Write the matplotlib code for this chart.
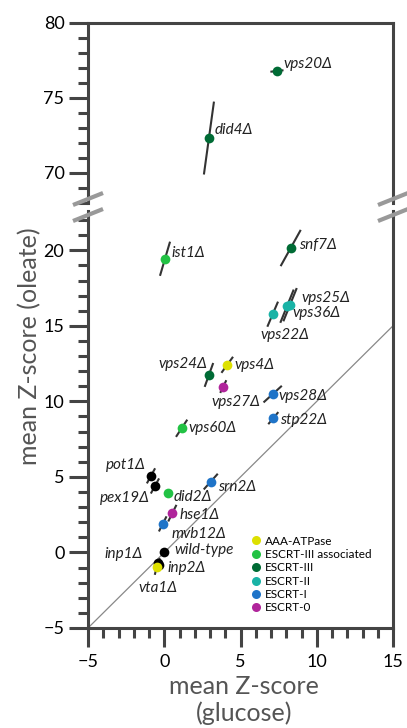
import matplotlib
matplotlib.use('Agg')
import matplotlib.pyplot as plt
from matplotlib.lines import Line2D

plt.rcParams['font.family'] = ['Lato', 'DejaVu Sans']

# mutant data: glucose z, oleate z, half-extent of the error segment in x and y
names = ['vps20Δ', 'did4Δ', 'ist1Δ', 'snf7Δ', 'vps25Δ', 'vps36Δ', 'vps22Δ',
         'vps24Δ', 'vps4Δ', 'vps27Δ', 'vps28Δ', 'stp22Δ', 'vps60Δ', 'pot1Δ',
         'pex19Δ', 'did2Δ', 'srn2Δ', 'hse1Δ', 'mvb12Δ', 'wild-type', 'inp1Δ',
         'inp2Δ', 'vta1Δ']
glucose = [7.39, 2.93, 0.05, 8.29, 8.25, 8.05, 7.11, 2.93, 4.13, 3.87, 7.11, 7.15,
           1.14, -0.87, -0.61, 0.27, 3.05, 0.53, -0.10, 0.0, -0.43, -0.35, -0.50]
oleate = [76.8, 72.33, 19.44, 20.15, 16.40, 16.30, 15.77, 11.75, 12.42, 10.98, 10.48,
          8.89, 8.22, 5.07, 4.40, 3.92, 4.69, 2.60, 1.89, 0.0, -0.68, -0.85, -0.98]
err_x = [0.43, 0.33, 0.33, 0.66, 0.44, 0.44, 0.35, 0.28, 0.38, 0.20, 0.60, 0.33,
         0.37, 0.27, 0.27, 0.15, 0.46, 0.27, 0.25, 0.15, 0.15, 0.15, 0.12]
err_y = [0.05, 2.43, 1.13, 1.20, 1.10, 1.10, 0.83, 0.79, 0.53, 0.42, 0.55, 0.40,
         0.57, 0.50, 0.50, 0.18, 0.52, 0.55, 0.50, 0.20, 0.30, 0.30, 0.50]
groups = ['ESCRT-III', 'ESCRT-III', 'ESCRT-III associated', 'ESCRT-III', 'ESCRT-II',
          'ESCRT-II', 'ESCRT-II', 'ESCRT-III', 'AAA-ATPase', 'ESCRT-0', 'ESCRT-I',
          'ESCRT-I', 'ESCRT-III associated', 'other', 'other', 'ESCRT-III associated',
          'ESCRT-I', 'ESCRT-0', 'ESCRT-I', 'other', 'other', 'other', 'AAA-ATPase']

legend_groups = ['AAA-ATPase', 'ESCRT-III associated', 'ESCRT-III', 'ESCRT-II',
                 'ESCRT-I', 'ESCRT-0']
colors = {'AAA-ATPase': '#dde000', 'ESCRT-III associated': '#22c244',
          'ESCRT-III': '#006b35', 'ESCRT-II': '#19b3a6', 'ESCRT-I': '#1f74c8',
          'ESCRT-0': '#b0259b', 'other': 'black'}

# label offsets (points) and horizontal alignment
label_pos = {
    'vps20Δ': (5, 5, 'left'), 'did4Δ': (4, 6, 'left'), 'ist1Δ': (5, 4, 'left'),
    'snf7Δ': (6, 2, 'left'), 'vps25Δ': (8, 5, 'left'), 'vps36Δ': (4, -5, 'left'),
    'vps22Δ': (9, -15, 'center'), 'vps24Δ': (-1, 8, 'right'), 'vps4Δ': (5, 0, 'left'),
    'vps27Δ': (9, -11, 'center'), 'vps28Δ': (4, -1, 'left'), 'stp22Δ': (5, -1, 'left'),
    'vps60Δ': (5, 0, 'left'), 'pot1Δ': (-4, 8, 'right'), 'pex19Δ': (-4, -9, 'right'),
    'did2Δ': (4, -3, 'left'), 'srn2Δ': (5, -4, 'left'), 'hse1Δ': (5, -1, 'left'),
    'mvb12Δ': (6, -7, 'left'), 'wild-type': (7, 2, 'left'), 'inp1Δ': (-11, 6, 'right'),
    'inp2Δ': (6, -2, 'left'), 'vta1Δ': (1, -15, 'center'),
}

W, H = 407, 728
L, R = 88, 393
fig = plt.figure(figsize=(W / 100, H / 100), dpi=100)
ax_top = fig.add_axes([L / W, 1 - 203 / H, (R - L) / W, (203 - 23) / H])
ax_bot = fig.add_axes([L / W, 1 - 628 / H, (R - L) / W, (628 - 211) / H])

spine_c = '#444444'
for ax in (ax_top, ax_bot):
    ax.set_xlim(-5, 15)
    for s in ax.spines.values():
        s.set_color(spine_c)
        s.set_linewidth(2.2)
    ax.yaxis.set_major_locator(plt.MultipleLocator(5))
    ax.yaxis.set_minor_locator(plt.MultipleLocator(1))
    ax.tick_params(axis='both', which='major', direction='out', length=14,
                   width=2.2, color=spine_c, labelsize=13, pad=3)
    ax.tick_params(axis='both', which='minor', direction='out', length=7,
                   width=2.2, color=spine_c)

ax_top.set_ylim(68, 80)
ax_top.spines['bottom'].set_visible(False)
ax_top.tick_params(axis='x', which='both', bottom=False, labelbottom=False)
ax_bot.set_ylim(-5, 22.6)
ax_bot.spines['top'].set_visible(False)
ax_bot.xaxis.set_major_locator(plt.MultipleLocator(5))
ax_bot.xaxis.set_minor_locator(plt.MultipleLocator(1))
ax_bot.tick_params(axis='x', which='major', pad=5)

# identity line
ax_bot.plot([-5, 15], [-5, 15], color='#888888', lw=0.9, zorder=1)

for i, name in enumerate(names):
    ax = ax_top if oleate[i] > 40 else ax_bot
    x, y = glucose[i], oleate[i]
    ax.plot([x - err_x[i], x + err_x[i]], [y - err_y[i], y + err_y[i]],
            color='#333333', lw=1.5, zorder=2, solid_capstyle='butt')
    ax.plot(x, y, 'o', ms=7, color=colors[groups[i]], mec='none', zorder=3)
    dx, dy, ha = label_pos[name]
    ax.annotate(name, (x, y), xytext=(dx, dy), textcoords='offset points',
                ha=ha, va='center', fontsize=11, style='italic', color='#222222')

handles = [Line2D([], [], marker='o', ls='none', ms=6.5, color=colors[g], mec='none')
           for g in legend_groups]
ax_bot.legend(handles, legend_groups, loc='lower left', bbox_to_anchor=(0.535, 0.035),
              frameon=False, fontsize=8.5, handlelength=0.8, handletextpad=0.4,
              labelspacing=0.2, borderpad=0, borderaxespad=0)

# axis break marks
for xb in (L, R):
    for yb in (199, 215):
        fig.add_artist(Line2D([(xb - 15) / W, (xb + 15) / W],
                              [1 - (yb + 6) / H, 1 - (yb - 6) / H],
                              color='#999999', lw=3, solid_capstyle='butt'))

fig.text(244 / W, 1 - 686 / H, 'mean Z-score', ha='center', va='center',
         fontsize=18, color='#555555')
fig.text(244 / W, 1 - 713 / H, '(glucose)', ha='center', va='center',
         fontsize=18, color='#555555')
fig.text(30 / W, 1 - 346 / H, 'mean Z-score (oleate)', ha='center', va='center',
         rotation=90, fontsize=18, color='#555555')

fig.savefig('out.png', dpi=100)
